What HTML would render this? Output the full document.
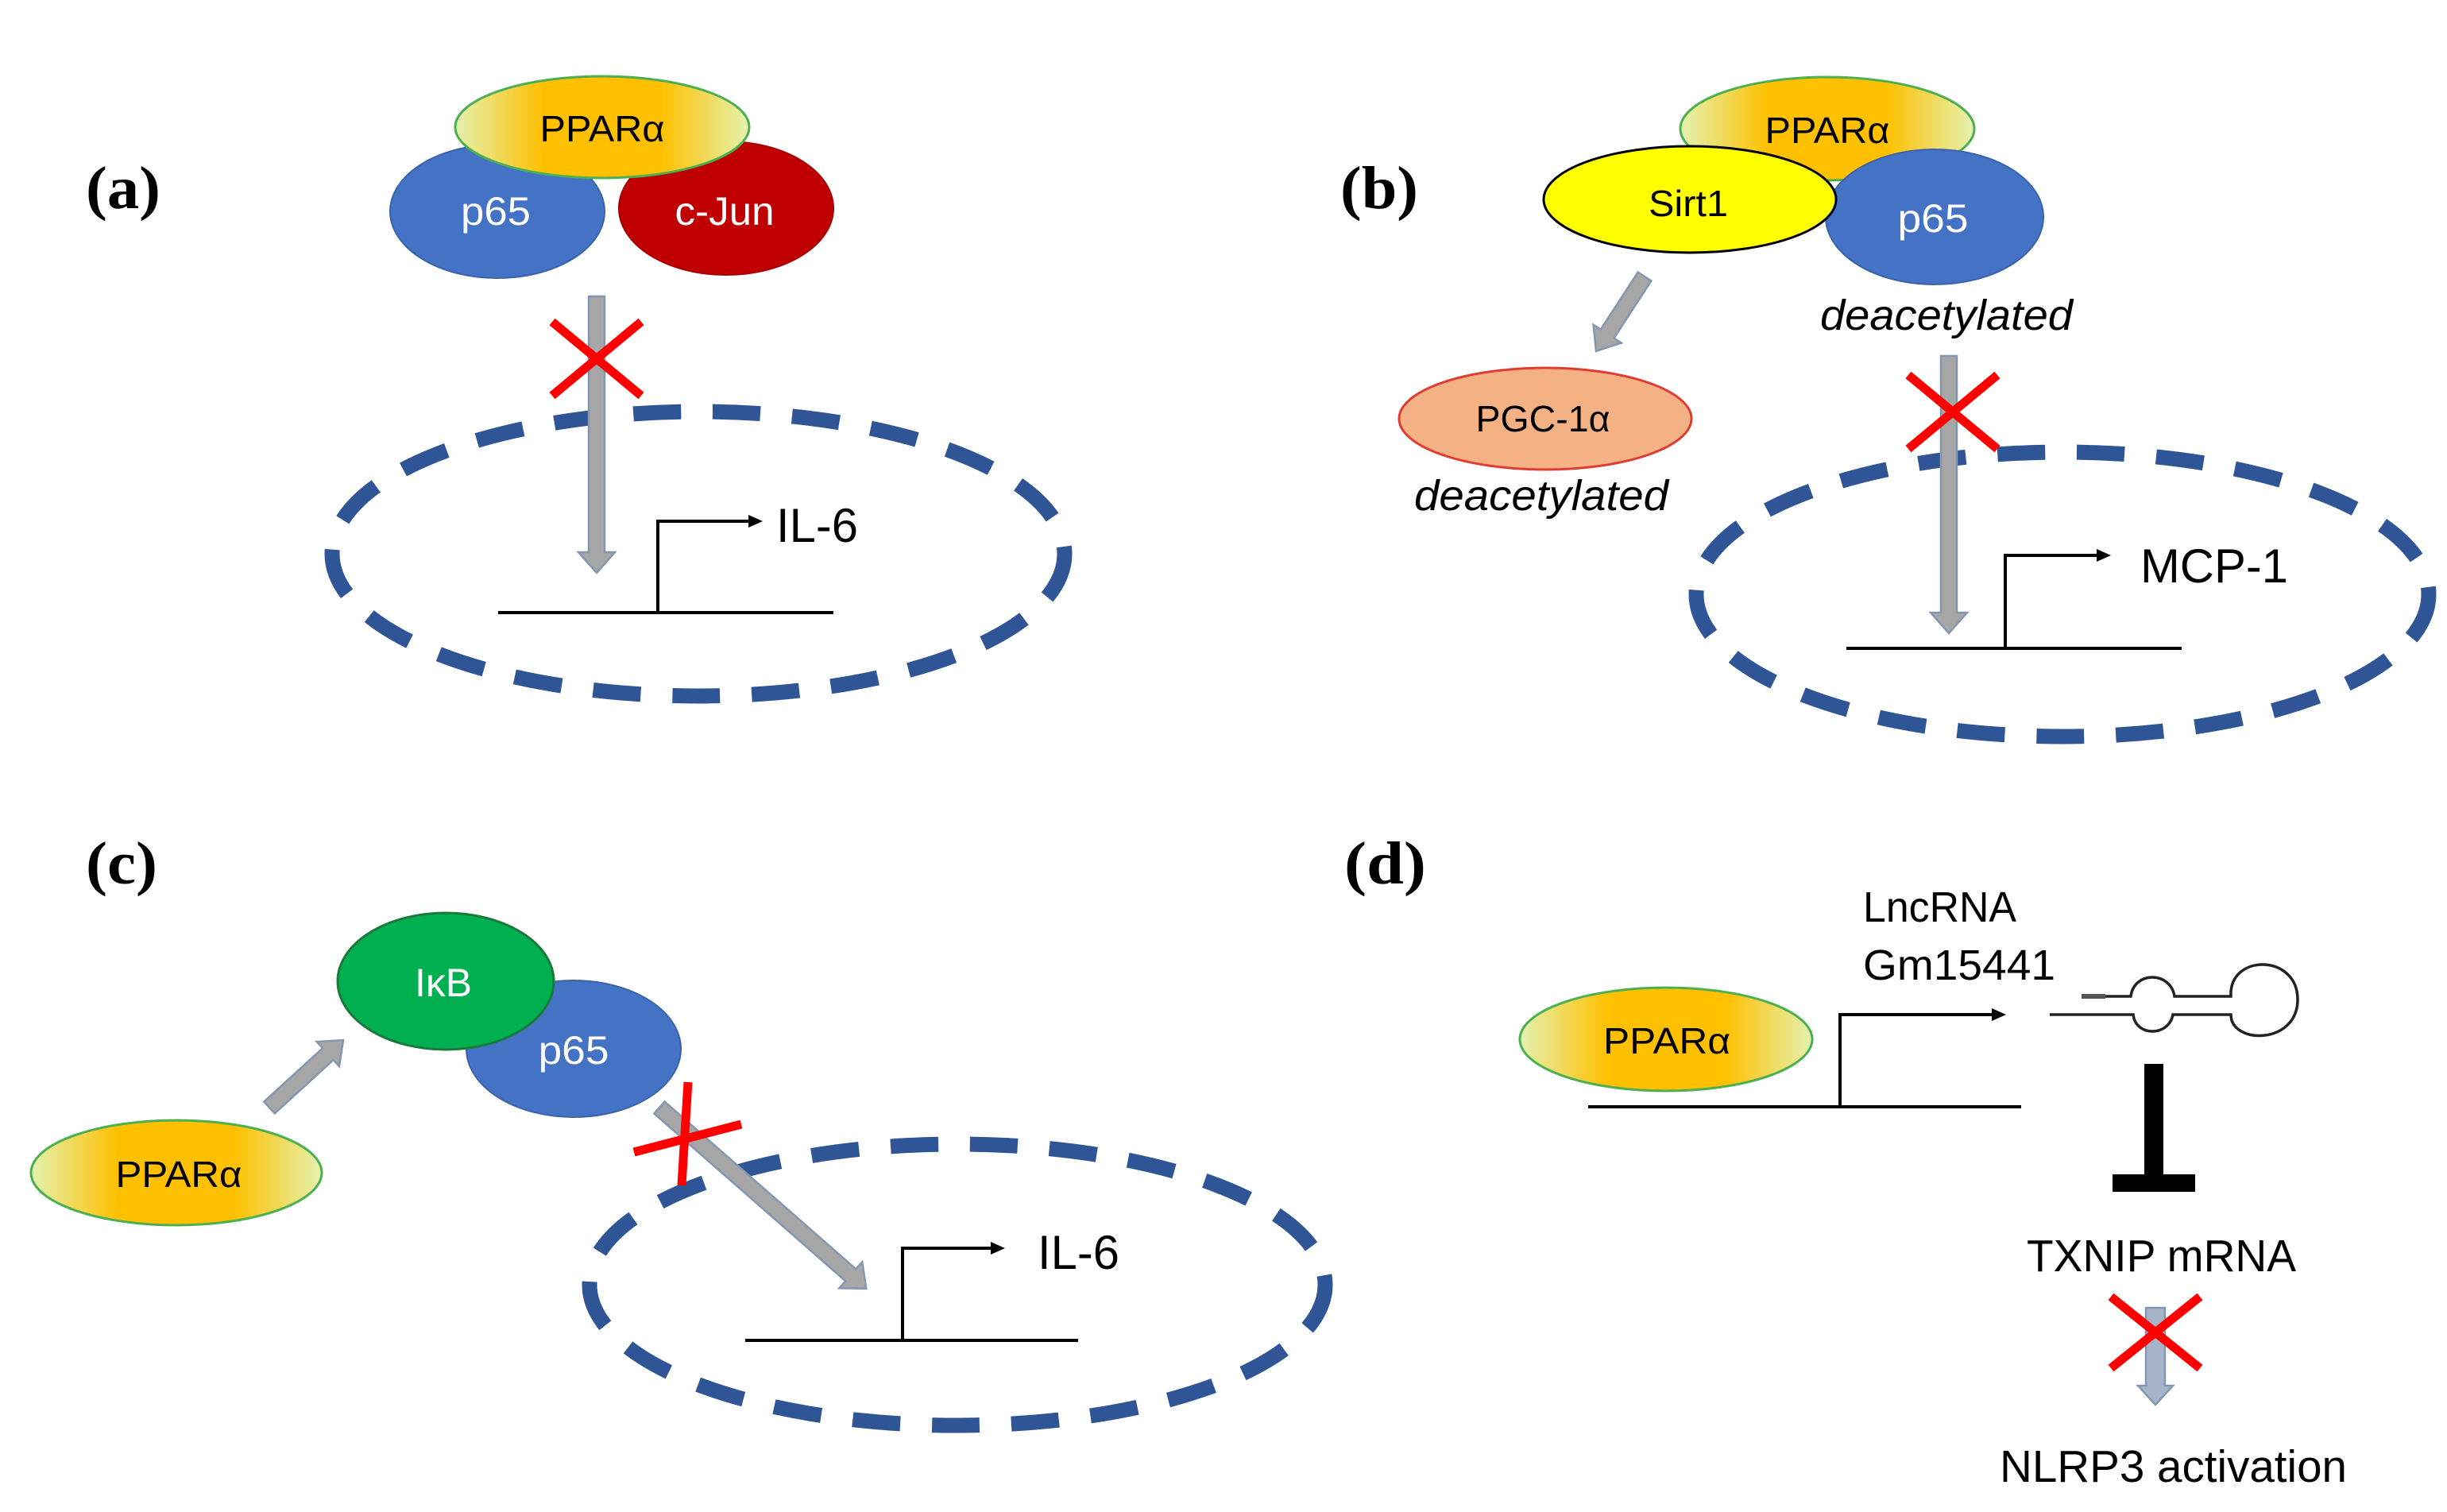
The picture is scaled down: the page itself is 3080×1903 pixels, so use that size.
<!DOCTYPE html>
<html><head><meta charset="utf-8"><style>
html,body{margin:0;padding:0;background:#fff;}
svg{display:block;}
.t{font-family:"Liberation Sans",sans-serif;}
.lab{font-family:"Liberation Serif",serif;font-weight:bold;font-size:76px;}
</style></head><body>
<svg width="3080" height="1903" viewBox="0 0 3080 1903" xmlns="http://www.w3.org/2000/svg">
<defs>
<linearGradient id="pp" x1="0" y1="0" x2="1" y2="0">
<stop offset="0" stop-color="#e4f2b0"/><stop offset="0.3" stop-color="#ffc000"/>
<stop offset="0.7" stop-color="#ffc000"/><stop offset="1" stop-color="#e4f2b0"/>
</linearGradient>
<g id="arr"><path d="M0,-10 L0,10 L1,10 Z"/></g>
</defs>
<rect width="3080" height="1903" fill="#fff"/>

<!-- Panel labels -->
<text class="lab" x="108" y="262" textLength="94" lengthAdjust="spacingAndGlyphs">(a)</text>
<text class="lab" x="1687" y="262" textLength="98" lengthAdjust="spacingAndGlyphs">(b)</text>
<text class="lab" x="108" y="1112" textLength="90" lengthAdjust="spacingAndGlyphs">(c)</text>
<text class="lab" x="1692" y="1112" textLength="103" lengthAdjust="spacingAndGlyphs">(d)</text>

<!-- ===== Panel A ===== -->
<ellipse cx="879" cy="697" rx="461" ry="179" fill="none" stroke="#2f5597" stroke-width="19" stroke-dasharray="60 40"/>
<ellipse cx="626" cy="266" rx="135" ry="84" fill="#4472c4" stroke="#3a63ad" stroke-width="2"/>
<ellipse cx="914" cy="262" rx="135" ry="84" fill="#c00000" stroke="#a80000" stroke-width="2"/>
<ellipse cx="758" cy="160" rx="185" ry="64" fill="url(#pp)" stroke="#4caf50" stroke-width="3"/>
<text class="t" x="758" y="178" font-size="46" text-anchor="middle" textLength="157" lengthAdjust="spacingAndGlyphs">PPARα</text>
<text class="t" x="624" y="283" font-size="50" fill="#fff" text-anchor="middle" textLength="88" lengthAdjust="spacingAndGlyphs">p65</text>
<text class="t" x="912" y="283" font-size="50" fill="#fff" text-anchor="middle" textLength="125" lengthAdjust="spacingAndGlyphs">c-Jun</text>
<g transform="translate(751,373) rotate(90)">
<path d="M0,-10 L322,-10 L322,-23 L348,0 L322,23 L322,10 L0,10 Z" fill="#a6a6a6" stroke="#8497b0" stroke-width="2.5"/>
</g>
<g stroke="#ff0000" stroke-width="11"><line x1="695" y1="405" x2="807" y2="498"/><line x1="807" y1="405" x2="695" y2="498"/></g>
<line x1="627" y1="771" x2="1049" y2="771" stroke="#000" stroke-width="4"/>
<polyline points="828,771 828,656 945,656" fill="none" stroke="#000" stroke-width="4"/>
<path d="M942,648 L960,656 L942,664 Z"/>
<text class="t" x="977" y="682" font-size="60" textLength="103" lengthAdjust="spacingAndGlyphs">IL-6</text>

<!-- ===== Panel B ===== -->
<ellipse cx="2596" cy="748" rx="461" ry="179" fill="none" stroke="#2f5597" stroke-width="19" stroke-dasharray="60 40"/>
<ellipse cx="2300" cy="162" rx="185" ry="65" fill="url(#pp)" stroke="#4caf50" stroke-width="3"/>
<text class="t" x="2300" y="180" font-size="46" text-anchor="middle" textLength="157" lengthAdjust="spacingAndGlyphs">PPARα</text>
<ellipse cx="2435" cy="273" rx="137" ry="85" fill="#4472c4" stroke="#3a63ad" stroke-width="2"/>
<ellipse cx="2127" cy="251" rx="184" ry="67" fill="#ffff00" stroke="#000" stroke-width="3"/>
<text class="t" x="2125" y="272" font-size="46" text-anchor="middle" textLength="100" lengthAdjust="spacingAndGlyphs">Sirt1</text>
<text class="t" x="2433" y="292" font-size="50" fill="#fff" text-anchor="middle" textLength="89" lengthAdjust="spacingAndGlyphs">p65</text>
<text class="t" x="2450" y="415" font-size="54" font-style="italic" text-anchor="middle" textLength="318" lengthAdjust="spacingAndGlyphs">deacetylated</text>
<g transform="translate(2070,348) rotate(123)">
<path d="M0,-10 L86,-10 L86,-21 L112,0 L86,21 L86,10 L0,10 Z" fill="#a6a6a6" stroke="#8497b0" stroke-width="2.5"/>
</g>
<ellipse cx="1945" cy="527" rx="184" ry="64" fill="#f4b183" stroke="#e03c31" stroke-width="3"/>
<text class="t" x="1942" y="543" font-size="46" text-anchor="middle" textLength="169" lengthAdjust="spacingAndGlyphs">PGC-1α</text>
<text class="t" x="1940" y="642" font-size="54" font-style="italic" text-anchor="middle" textLength="320" lengthAdjust="spacingAndGlyphs">deacetylated</text>
<g transform="translate(2453,448) rotate(90)">
<path d="M0,-10 L323,-10 L323,-23 L349,0 L323,23 L323,10 L0,10 Z" fill="#a6a6a6" stroke="#8497b0" stroke-width="2.5"/>
</g>
<g stroke="#ff0000" stroke-width="11"><line x1="2402" y1="472" x2="2514" y2="565"/><line x1="2514" y1="472" x2="2402" y2="565"/></g>
<line x1="2324" y1="816" x2="2746" y2="816" stroke="#000" stroke-width="4"/>
<polyline points="2524,816 2524,699 2642,699" fill="none" stroke="#000" stroke-width="4"/>
<path d="M2639,691 L2657,699 L2639,707 Z"/>
<text class="t" x="2694" y="733" font-size="60" textLength="186" lengthAdjust="spacingAndGlyphs">MCP-1</text>

<!-- ===== Panel C ===== -->
<ellipse cx="1205" cy="1617" rx="463" ry="177" fill="none" stroke="#2f5597" stroke-width="19" stroke-dasharray="60 40"/>
<ellipse cx="722" cy="1320" rx="135" ry="86" fill="#4472c4" stroke="#3a63ad" stroke-width="2"/>
<ellipse cx="561" cy="1235" rx="136" ry="86" fill="#00b050" stroke="#1a7a3c" stroke-width="3"/>
<text class="t" x="558" y="1254" font-size="50" fill="#fff" text-anchor="middle" textLength="72" lengthAdjust="spacingAndGlyphs">IκB</text>
<text class="t" x="722" y="1339" font-size="50" fill="#fff" text-anchor="middle" textLength="89" lengthAdjust="spacingAndGlyphs">p65</text>
<ellipse cx="222" cy="1476" rx="183" ry="66" fill="url(#pp)" stroke="#4caf50" stroke-width="3"/>
<text class="t" x="225" y="1494" font-size="46" text-anchor="middle" textLength="159" lengthAdjust="spacingAndGlyphs">PPARα</text>
<g transform="translate(339,1394) rotate(-42.4)">
<path d="M0,-10 L100,-10 L100,-21 L126,0 L100,21 L100,10 L0,10 Z" fill="#a6a6a6" stroke="#8497b0" stroke-width="2.5"/>
</g>
<g transform="translate(830,1394) rotate(41.2)">
<path d="M0,-10 L320,-10 L320,-22 L346,0 L320,22 L320,10 L0,10 Z" fill="#a6a6a6" stroke="#8497b0" stroke-width="2.5"/>
</g>
<g stroke="#ff0000" stroke-width="11"><line x1="798" y1="1450" x2="933" y2="1415"/><line x1="866" y1="1362" x2="858" y2="1492"/></g>
<line x1="938" y1="1687" x2="1357" y2="1687" stroke="#000" stroke-width="4"/>
<polyline points="1136,1687 1136,1571 1250,1571" fill="none" stroke="#000" stroke-width="4"/>
<path d="M1247,1563 L1265,1571 L1247,1579 Z"/>
<text class="t" x="1306" y="1597" font-size="60" textLength="103" lengthAdjust="spacingAndGlyphs">IL-6</text>

<!-- ===== Panel D ===== -->
<text class="t" x="2345" y="1160" font-size="54" textLength="193" lengthAdjust="spacingAndGlyphs">LncRNA</text>
<text class="t" x="2345" y="1233" font-size="54" textLength="242" lengthAdjust="spacingAndGlyphs">Gm15441</text>
<ellipse cx="2097" cy="1308" rx="184" ry="65" fill="url(#pp)" stroke="#4caf50" stroke-width="3"/>
<text class="t" x="2098" y="1326" font-size="46" text-anchor="middle" textLength="160" lengthAdjust="spacingAndGlyphs">PPARα</text>
<line x1="1999" y1="1393" x2="2544" y2="1393" stroke="#000" stroke-width="4"/>
<polyline points="2316,1393 2316,1277 2510,1277" fill="none" stroke="#000" stroke-width="4"/>
<path d="M2507,1269 L2525,1277 L2507,1285 Z"/>
<!-- hairpin -->
<g fill="none" stroke="#222" stroke-width="3.5">
<path d="M2620,1254 L2682,1254 C2686,1222 2732,1222 2737,1254 L2808,1254 C2805,1200 2892,1200 2892,1258 C2892,1315 2808,1315 2808,1277 L2735,1277 C2730,1305 2688,1305 2685,1277 L2580,1277"/>
</g>
<line x1="2620" y1="1254" x2="2650" y2="1254" stroke="#555" stroke-width="6"/>
<!-- T bar -->
<rect x="2699" y="1339" width="24" height="142" fill="#000"/>
<rect x="2659" y="1478" width="104" height="22" fill="#000"/>
<text class="t" x="2551" y="1600" font-size="57" textLength="339" lengthAdjust="spacingAndGlyphs">TXNIP mRNA</text>
<g transform="translate(2713,1646) rotate(90)">
<path d="M0,-12 L98,-12 L98,-22 L122,0 L98,22 L98,12 L0,12 Z" fill="#a6b4c8" stroke="#8497b0" stroke-width="2.5"/>
</g>
<g stroke="#ff0000" stroke-width="11"><line x1="2657" y1="1632" x2="2769" y2="1722"/><line x1="2769" y1="1632" x2="2657" y2="1722"/></g>
<text class="t" x="2517" y="1865" font-size="57" textLength="437" lengthAdjust="spacingAndGlyphs">NLRP3 activation</text>
</svg>
</body></html>
